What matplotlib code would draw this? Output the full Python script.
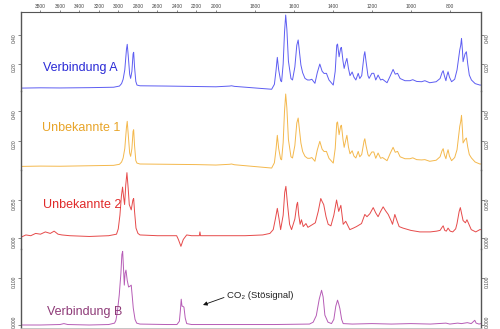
import numpy as np
import matplotlib
matplotlib.use("Agg")
import matplotlib.pyplot as plt
from matplotlib.transforms import ScaledTranslation

plt.rcParams['font.family'] = ['Liberation Sans', 'DejaVu Sans']

# ==================== DATA ====================
# wavenumber (cm-1) / absorbance
wn_a = [4000, 3800, 3600, 3300, 3050, 2990, 2968, 2952, 2935, 2918, 2910, 2900, 2885, 2875, 2862, 2850,
        2844, 2835, 2822, 2810, 2780, 2500, 2200, 2000, 1930, 1920, 1905, 1800, 1714, 1700, 1692, 1685,
        1678, 1668, 1663, 1655, 1648, 1642, 1636, 1628, 1615, 1607, 1595, 1585, 1578, 1571, 1564, 1555,
        1543, 1530, 1518, 1508, 1492, 1480, 1467, 1455, 1445, 1433, 1420, 1398, 1388, 1380, 1376, 1368,
        1360, 1356, 1348, 1342, 1335, 1328, 1320, 1312, 1301, 1292, 1282, 1270, 1262, 1252, 1240, 1236,
        1230, 1220, 1214, 1200, 1190, 1180, 1168, 1155, 1145, 1122, 1105, 1091, 1080, 1068, 1055, 1030,
        1005, 990, 970, 945, 928, 903, 870, 850, 840, 834, 828, 820, 815, 809, 802, 791, 775, 763, 755,
        749, 744, 740, 735, 732, 722, 715, 708, 700, 689, 670, 646, 640]
abs_a = [0.034, 0.036, 0.035, 0.037, 0.040, 0.048, 0.065, 0.095, 0.16, 0.30, 0.336, 0.26, 0.13, 0.101, 0.15, 0.27,
         0.281, 0.18, 0.08, 0.055, 0.050, 0.048, 0.045, 0.043, 0.048, 0.050, 0.046, 0.035, 0.026, 0.06, 0.15, 0.246,
         0.16, 0.085, 0.078, 0.20, 0.42, 0.538, 0.44, 0.22, 0.10, 0.090, 0.18, 0.33, 0.366, 0.28, 0.193, 0.14,
         0.101, 0.09, 0.09, 0.095, 0.067, 0.14, 0.200, 0.15, 0.135, 0.136, 0.09, 0.055, 0.15, 0.33, 0.338, 0.250,
         0.31, 0.315, 0.22, 0.170, 0.21, 0.239, 0.17, 0.12, 0.145, 0.11, 0.090, 0.136, 0.10, 0.12, 0.26, 0.285,
         0.22, 0.12, 0.101, 0.136, 0.136, 0.09, 0.124, 0.09, 0.095, 0.071, 0.12, 0.163, 0.13, 0.136, 0.10, 0.085,
         0.085, 0.092, 0.080, 0.078, 0.085, 0.071, 0.078, 0.10, 0.14, 0.154, 0.12, 0.085, 0.12, 0.147, 0.11, 0.078, 0.095, 0.159, 0.24,
         0.297, 0.33, 0.377, 0.29, 0.216, 0.27, 0.285, 0.20, 0.124, 0.090, 0.065, 0.055, 0.055]

wn_u1 = wn_a
abs_u1 = [0.031, 0.033, 0.032, 0.035, 0.038, 0.045, 0.060, 0.087, 0.15, 0.29, 0.331, 0.25, 0.12, 0.098, 0.15, 0.265,
          0.275, 0.17, 0.07, 0.053, 0.047, 0.045, 0.043, 0.040, 0.045, 0.047, 0.042, 0.030, 0.020, 0.055, 0.14, 0.238,
          0.15, 0.08, 0.075, 0.19, 0.40, 0.513, 0.42, 0.21, 0.095, 0.087, 0.17, 0.32, 0.353, 0.27, 0.187, 0.13,
          0.098, 0.085, 0.085, 0.09, 0.065, 0.14, 0.198, 0.145, 0.13, 0.131, 0.085, 0.053, 0.15, 0.32, 0.327, 0.242,
          0.30, 0.305, 0.21, 0.158, 0.20, 0.238, 0.16, 0.115, 0.135, 0.10, 0.087, 0.131, 0.095, 0.11, 0.20, 0.215,
          0.17, 0.11, 0.098, 0.127, 0.127, 0.085, 0.12, 0.085, 0.09, 0.069, 0.12, 0.158, 0.125, 0.131, 0.095, 0.082,
          0.082, 0.088, 0.076, 0.074, 0.076, 0.065, 0.072, 0.095, 0.135, 0.149, 0.11, 0.082, 0.115, 0.142, 0.10, 0.069, 0.09, 0.142, 0.23,
          0.298, 0.33, 0.371, 0.27, 0.187, 0.21, 0.22, 0.16, 0.11, 0.087, 0.06, 0.047, 0.047]

wn_u2 = [4000, 3950, 3900, 3850, 3800, 3750, 3700, 3660, 3620, 3580, 3500, 3300, 3100, 3020, 3002, 2985,
         2970, 2958, 2948, 2937, 2925, 2913, 2900, 2889, 2869, 2852, 2844, 2835, 2820, 2800, 2779, 2600,
         2403, 2385, 2359, 2345, 2335, 2300, 2250, 2170, 2164, 2158, 2000, 1850, 1760, 1723, 1706, 1695,
         1685, 1676, 1668, 1655, 1647, 1641, 1633, 1622, 1612, 1595, 1585, 1581, 1575, 1568, 1561, 1552,
         1545, 1538, 1528, 1515, 1501, 1490, 1475, 1462, 1455, 1447, 1435, 1424, 1410, 1395, 1381, 1370,
         1359, 1347, 1334, 1313, 1295, 1279, 1253, 1236, 1225, 1210, 1193, 1180, 1168, 1155, 1142, 1130,
         1116, 1100, 1094, 1082, 1070, 1060, 1040, 1000, 954, 900, 868, 850, 840, 834, 826, 818, 809, 798,
         785, 770, 763, 752, 746, 738, 732, 720, 712, 700, 690, 667, 646, 640]
abs_u2 = [0.001, 0.004, 0.003, 0.006, 0.005, 0.008, 0.006, 0.009, 0.005, 0.004, 0.003, 0.002, 0.003, 0.005, 0.012, 0.030,
          0.055, 0.067, 0.055, 0.044, 0.070, 0.086, 0.065, 0.044, 0.037, 0.050, 0.052, 0.035, 0.013, 0.006, 0.004, 0.003,
          0.003, -0.002, -0.011, -0.006, -0.002, 0.004, 0.003, 0.003, 0.008, 0.003, 0.003, 0.003, 0.004, 0.006, 0.011, 0.025,
          0.039, 0.025, 0.011, 0.030, 0.060, 0.068, 0.045, 0.018, 0.011, 0.025, 0.044, 0.047, 0.030, 0.018, 0.024, 0.015,
          0.017, 0.019, 0.014, 0.016, 0.018, 0.020, 0.035, 0.052, 0.048, 0.044, 0.028, 0.018, 0.016, 0.030, 0.050, 0.035,
          0.043, 0.018, 0.022, 0.011, 0.013, 0.015, 0.019, 0.031, 0.028, 0.032, 0.040, 0.033, 0.028, 0.035, 0.041, 0.036,
          0.031, 0.022, 0.018, 0.031, 0.022, 0.015, 0.013, 0.010, 0.008, 0.008, 0.009, 0.010, 0.014, 0.016, 0.010, 0.009, 0.013, 0.009,
          0.008, 0.012, 0.019, 0.035, 0.040, 0.030, 0.023, 0.020, 0.024, 0.017, 0.011, 0.008, 0.011, 0.011]

wn_b = [4000, 3800, 3600, 3560, 3520, 3300, 3100, 3040, 3026, 3010, 2992, 2975, 2965, 2957, 2948, 2940,
        2932, 2923, 2910, 2896, 2880, 2869, 2858, 2848, 2830, 2813, 2780, 2500, 2400, 2375, 2365, 2356,
        2348, 2340, 2328, 2315, 2300, 2250, 2000, 1700, 1520, 1501, 1485, 1470, 1458, 1450, 1441, 1425,
        1407, 1395, 1385, 1376, 1370, 1364, 1355, 1347, 1300, 1200, 1100, 1000, 900, 820, 800, 760,
        740, 710, 690, 672, 665, 650, 640]
abs_b = [0.0, 0.0, 0.001, 0.003, 0.001, 0.0, 0.001, 0.004, 0.010, 0.030, 0.064, 0.110, 0.150, 0.157, 0.120, 0.085,
         0.110, 0.117, 0.095, 0.081, 0.083, 0.085, 0.060, 0.036, 0.012, 0.004, 0.002, 0.001, 0.001, 0.008, 0.030, 0.055,
         0.040, 0.040, 0.038, 0.015, 0.003, 0.001, 0.001, 0.001, 0.002, 0.006, 0.020, 0.055, 0.074, 0.060, 0.021, 0.006,
         0.003, 0.012, 0.040, 0.053, 0.045, 0.035, 0.012, 0.003, 0.002, 0.003, 0.002, 0.003, 0.002, 0.004, 0.002, 0.004,
         0.003, 0.005, 0.003, 0.010, 0.004, 0.002, 0.003]

names = ['Verbindung A', 'Unbekannte 1', 'Unbekannte 2', 'Verbindung B']
top_ticks = [3800, 3600, 3400, 3200, 3000, 2800, 2600, 2400, 2200, 2000, 1800, 1600, 1400, 1200, 1000, 800]
y_ticks = [[0.20, 0.40], [0.20, 0.40], [0.000, 0.050], [0.000, 0.100]]
y_labels = [['0.20', '0.40'], ['0.20', '0.40'], ['0.000', '0.050'], ['0.000', '0.100']]

# ==================== STYLE ====================
W, H = 500, 329
line_colors = ['#5d5df2', '#f4b84c', '#e64a4a', '#b65cb6']
text_colors = ['#2a2ad6', '#e8a428', '#e02a2a', '#8e3b78']
panels_px = [(12, 91), (91, 170), (170, 249), (249, 328)]
y_limits = [(0.014, 0.559), (0.007, 0.533), (-0.0145, 0.0895), (-0.0064, 0.162)]
label_pos = [(43, 68), (42, 128), (43, 205), (47, 312)]


# x axis: 4000-2000 drawn at half scale
def fwd(w):
    w = np.asarray(w, dtype=float)
    return np.where(w >= 2000, 2000 + (w - 2000) / 2, w)


def inv(u):
    u = np.asarray(u, dtype=float)
    return np.where(u >= 2000, 2000 + (u - 2000) * 2, u)


fig = plt.figure(figsize=(W / 100, H / 100), dpi=100)

series = [(wn_a, abs_a), (wn_u1, abs_u1), (wn_u2, abs_u2), (wn_b, abs_b)]
axes = []
for i, (top, bot) in enumerate(panels_px):
    ax = fig.add_axes([21 / W, 1 - bot / H, 460 / W, (bot - top) / H])
    ax.set_xscale('function', functions=(fwd, inv))
    ax.set_xlim(4000, 640)
    ax.set_ylim(*y_limits[i])
    ax.patch.set_alpha(0)

    x, y = series[i]
    ax.plot(x, y, color=line_colors[i], lw=0.7)

    # spines
    for s in ['left', 'right']:
        ax.spines[s].set_color('#555555')
        ax.spines[s].set_linewidth(1.0)
    ax.spines['top'].set_visible(i == 0)
    ax.spines['top'].set_color('#555555')
    ax.spines['top'].set_linewidth(0.8)
    ax.spines['bottom'].set_visible(i == 3)
    ax.spines['bottom'].set_color('#bbbbbb')
    ax.spines['bottom'].set_linewidth(0.6)

    # y ticks on both sides
    ax.set_yticks(y_ticks[i])
    ax.set_yticklabels(y_labels[i])
    ax.yaxis.set_ticks_position('both')
    ax.tick_params(axis='y', direction='out', length=2, width=0.5, color='#555555',
                   labelsize=3.5, labelcolor='#444444', labelleft=True, labelright=True,
                   labelrotation=90, pad=1)

    if i == 0:
        ax.xaxis.tick_top()
        ax.set_xticks(top_ticks)
        ax.set_xticklabels([str(t) for t in top_ticks])
        ax.tick_params(axis='x', direction='out', length=1.5, width=0.5, color='#555555',
                       labelsize=3.5, labelcolor='#444444', pad=1)
    else:
        ax.set_xticks([])
    ax.minorticks_off()

    lx, ly = label_pos[i]
    fig.text(lx / W, 1 - ly / H, names[i], color=text_colors[i], fontsize=9, ha='left', va='center')
    axes.append(ax)

# lowest 0.000 labels sit above their tick so they stay inside the picture
nudge = ScaledTranslation(0, 7 / 100, fig.dpi_scale_trans)
t0 = axes[3].yaxis.get_major_ticks()[0]
t0.label1.set_transform(t0.label1.get_transform() + nudge)
t0.label2.set_transform(t0.label2.get_transform() + nudge)

# CO2 note
fig.text(227 / W, 1 - 295 / H, 'CO₂ (Stösignal)', fontsize=6.8, ha='left', va='center',
         family=['Liberation Sans', 'DejaVu Sans'], color='#222222')
axes[3].annotate('', xy=(203 / W, 1 - 305 / H), xycoords='figure fraction',
                 xytext=(224 / W, 1 - 297.5 / H), textcoords='figure fraction',
                 arrowprops=dict(arrowstyle='-|>', color='#111111', lw=0.6, mutation_scale=6,
                                 shrinkA=0, shrinkB=0))

fig.savefig('out.png', dpi=100)
